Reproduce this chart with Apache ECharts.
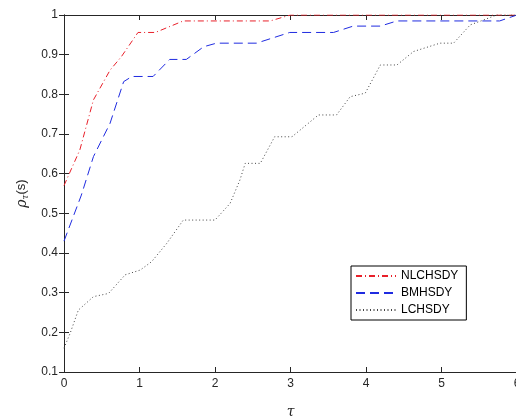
<!DOCTYPE html>
<html>
<head>
<meta charset="utf-8">
<script src="https://cdn.jsdelivr.net/npm/echarts@6/dist/echarts.min.js"></script>
<style>
  html, body { margin: 0; padding: 0; background: #fff; }
  #chart { width: 516px; height: 419px; }
</style>
</head>
<body>
<div id="chart"></div>
<script>
// tau values and rho values
var tauNL = [0, 0.21, 0.39, 0.61, 0.76, 0.98, 1.21, 1.58, 2.73, 3.0, 6];
var rhoNL = [0.57, 0.66, 0.786, 0.861, 0.895, 0.956, 0.956, 0.985, 0.985, 1, 1];

var tauBM = [0, 0.23, 0.39, 0.61, 0.79, 0.9, 1.18, 1.4, 1.62, 1.85, 2.02, 2.55, 2.99, 3.57, 3.83, 4.19, 4.41, 5.77, 6];
var rhoBM = [0.43, 0.546, 0.643, 0.727, 0.832, 0.845, 0.845, 0.888, 0.888, 0.92, 0.929, 0.929, 0.956, 0.956, 0.972, 0.972, 0.985, 0.985, 1];

var tauLC = [0, 0.08, 0.19, 0.39, 0.59, 0.81, 1.01, 1.16, 1.36, 1.58, 2.0, 2.2, 2.33, 2.4, 2.6, 2.79, 3.02, 3.37, 3.61, 3.79, 3.99, 4.19, 4.41, 4.63, 4.98, 5.16, 5.38, 5.55, 5.73, 6];
var rhoLC = [0.16, 0.197, 0.256, 0.29, 0.298, 0.345, 0.357, 0.378, 0.424, 0.483, 0.483, 0.525, 0.584, 0.626, 0.626, 0.693, 0.693, 0.748, 0.748, 0.794, 0.803, 0.874, 0.874, 0.908, 0.929, 0.929, 0.975, 0.987, 1, 1];

var seriesNames = ['NLCHSDY', 'BMHSDY', 'LCHSDY'];

function pairs(xs, ys) {
    return xs.map(function (x, i) { return [x, ys[i]]; });
}

var chart = echarts.init(document.getElementById('chart'));

var fontFam = 'Liberation Sans, Arial, sans-serif';
var axisCol = '#262626';

var option = {
    animation: false,
    grid: { left: 64, right: -1, top: 15, bottom: 47, containLabel: false, outerBoundsMode: 'none' },
    legend: {
        data: seriesNames,
        orient: 'vertical',
        left: 351,
        top: 266,
        itemWidth: 40,
        itemHeight: 8,
        itemGap: 5,
        padding: [4, 8, 4, 4],
        borderColor: '#000',
        borderWidth: 1,
        backgroundColor: '#fff',
        itemStyle: { opacity: 0, borderWidth: 0 },
        textStyle: { fontFamily: fontFam, fontSize: 12, color: '#000' }
    },
    xAxis: [
        {
            type: 'value', min: 0, max: 6, interval: 1,
            name: 'τ', nameLocation: 'middle', nameGap: 33,
            nameTextStyle: { fontFamily: 'DejaVu Serif, serif', fontStyle: 'italic', fontSize: 14, color: axisCol },
            axisLine: { lineStyle: { color: axisCol } },
            axisTick: { inside: true, length: 5, lineStyle: { color: axisCol } },
            axisLabel: { fontFamily: fontFam, fontSize: 12, color: axisCol, margin: 6 },
            splitLine: { show: false }
        },
        {
            type: 'value', min: 0, max: 6, interval: 1, position: 'top',
            axisLine: { lineStyle: { color: axisCol } },
            axisTick: { inside: true, length: 5, lineStyle: { color: axisCol } },
            axisLabel: { show: false },
            splitLine: { show: false }
        }
    ],
    yAxis: [
        {
            type: 'value', min: 0.1, max: 1, interval: 0.1,
            name: '{r|ρ}{s|τ}{n|(s)}', nameLocation: 'middle', nameGap: 31, nameRotate: 90,
            nameTextStyle: {
                color: axisCol,
                rich: {
                    r: { fontFamily: 'DejaVu Serif, serif', fontStyle: 'italic', fontSize: 14, color: axisCol },
                    s: { fontFamily: 'DejaVu Serif, serif', fontStyle: 'italic', fontSize: 9, color: axisCol, verticalAlign: 'bottom', padding: [8, 0, 0, 0] },
                    n: { fontFamily: fontFam, fontSize: 13, color: axisCol }
                }
            },
            axisLine: { show: true, lineStyle: { color: axisCol } },
            axisTick: { show: true, inside: true, length: 5, lineStyle: { color: axisCol } },
            axisLabel: {
                fontFamily: fontFam, fontSize: 12, color: axisCol, margin: 6,
                formatter: function (v) { return +v.toFixed(1) + ''; }
            },
            splitLine: { show: false }
        },
        {
            type: 'value', min: 0.1, max: 1, interval: 0.1, position: 'right',
            axisLine: { show: true, lineStyle: { color: axisCol } },
            axisTick: { show: true, inside: true, length: 5, lineStyle: { color: axisCol } },
            axisLabel: { show: false },
            splitLine: { show: false }
        }
    ],
    series: [
        {
            name: seriesNames[0], type: 'line', symbol: 'none',
            data: pairs(tauNL, rhoNL),
            lineStyle: { color: '#e8202a', width: 1, type: [6, 3, 1, 3] },
            itemStyle: { color: '#e8202a' }
        },
        {
            name: seriesNames[1], type: 'line', symbol: 'none',
            data: pairs(tauBM, rhoBM),
            lineStyle: { color: '#1f2be0', width: 1, type: [9, 5] },
            itemStyle: { color: '#1f2be0' }
        },
        {
            name: seriesNames[2], type: 'line', symbol: 'none',
            data: pairs(tauLC, rhoLC),
            lineStyle: { color: '#444', width: 1, type: [1, 2.5] },
            itemStyle: { color: '#444' }
        }
    ]
};

chart.setOption(option);
</script>
</body>
</html>
